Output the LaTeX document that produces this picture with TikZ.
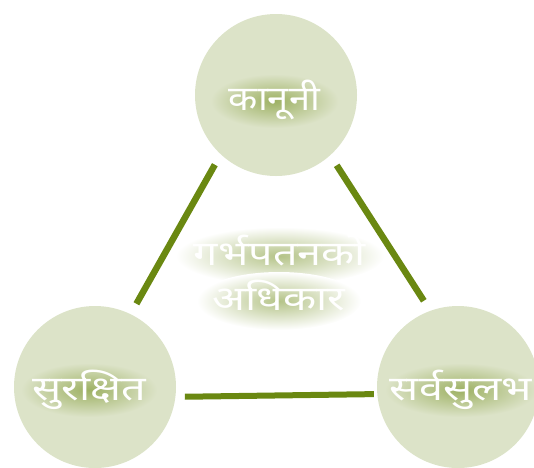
\documentclass[tikz,border=0pt]{standalone}
\usepackage{fontspec}
\newfontfamily\nepfont[Script=Devanagari, FakeStretch=1.27]{Noto Sans}
\newfontfamily\nepnarrowfont[Script=Devanagari, FakeStretch=1.12]{Noto Sans}
\newlength{\du}
\setlength{\du}{1pt}
\definecolor{bubblefill}{rgb}{0.863,0.890,0.784}
\definecolor{bargreen}{rgb}{0.416,0.533,0.067}
\tikzset{
  bubble/.style={circle, fill=bubblefill, draw=none, minimum size=162\du, inner sep=0pt, outer sep=0pt},
  bar/.style={draw=bargreen, line width=6.5\du, shorten <=12\du, shorten >=12\du},
  nepword/.style={anchor=base, text=white, inner sep=0pt, font=\nepfont\fontsize{34}{36}\selectfont},
  nepnarrow/.style={nepword, font=\nepnarrowfont\fontsize{34}{36}\selectfont},
  glowin/.style={inner color=bargreen!55!bubblefill, outer color=bubblefill},
  glowout/.style={inner color=bargreen!50!white, outer color=white},
}

\begin{document}
\begin{tikzpicture}
\pgftransformxscale{1.000000}
\pgftransformyscale{-1.000000}
\useasboundingbox (0\du,0\du) rectangle (534\du,467\du);
% circles
\node[bubble] (kanuni) at (276\du,95\du){};
\node[bubble] (surakshit) at (95\du,387\du){};
\node[bubble] (sarvasulabh) at (458\du,387\du){};
% bars between circles
\draw[bar] (kanuni.227.6) -- (surakshit.64.2);
\draw[bar] (kanuni.312.4) -- (sarvasulabh.110.6);
\draw[bar, line width=6\du, shorten <=9.5\du, shorten >=3.4\du] (surakshit.353.9) -- (sarvasulabh.185.4);
% glow behind the words
\shade[glowin] (274.5\du,101\du) ellipse [x radius=64\du, y radius=27\du];
\shade[glowin] (89\du,390\du) ellipse [x radius=68\du, y radius=27\du];
\shade[glowin] (461\du,390\du) ellipse [x radius=76\du, y radius=27\du];
\shade[glowout] (280\du,256\du) ellipse [x radius=104\du, y radius=29\du];
\shade[glowout] (279\du,301\du) ellipse [x radius=82\du, y radius=29\du];
% words
\node[nepnarrow] (kanunitext) at (274.5\du,110\du){कानूनी};
\node[nepword] (surakshittext) at (89\du,400\du){सुरक्षित};
\node[nepword] (sarvasulabhtext) at (461\du,400\du){सर्वसुलभ};
\node[nepword] (garbhatext) at (280\du,265\du){गर्भपतनको};
\node[nepword] (adhikartext) at (279\du,310\du){अधिकार};
\end{tikzpicture}
\end{document}
